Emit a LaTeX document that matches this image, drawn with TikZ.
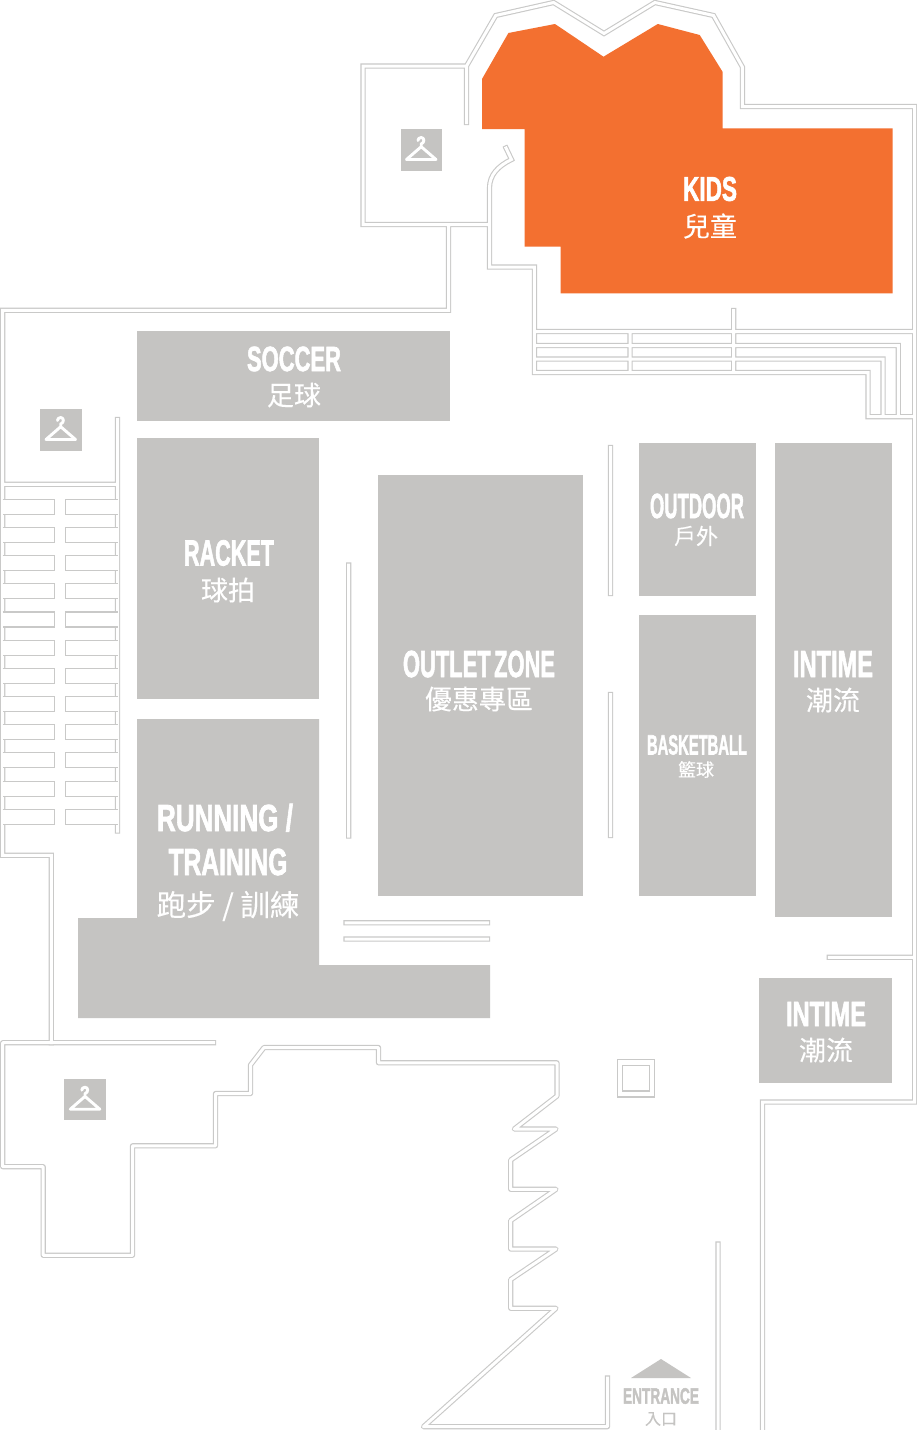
\documentclass[tikz,border=0pt]{standalone}
\usepackage{fontspec}
\usepackage{graphicx}
\setmainfont{Liberation Sans}
\newfontfamily\lblf[BoldFeatures={FakeBold=2.2}]{Liberation Sans}
\newfontfamily\cjkf[FakeBold=0.25]{Noto Sans CJK TC}
\definecolor{zonegray}{HTML}{C5C4C2}
\definecolor{wallgray}{HTML}{C9C9C8}
\definecolor{kidsorange}{HTML}{F37030}
\newcommand\lbl[3]{\resizebox{#1pt}{#2pt}{\raisebox{0pt}[.716em][0pt]{\lblf\bfseries #3}}}
\newcommand\cj[2]{{\cjkf\fontsize{#1pt}{#1pt}\selectfont #2}}
\newcommand\wallnet{
  (363,66) -- (466.5,66) -- (495.7,15.5) -- (553.6,2.5) -- (604,33.5) -- (654.9,2.5) -- (713.5,15.5) -- (742.4,67) -- (742.4,106.5) -- (914.7,106.5) -- (914.7,1102) -- (762.5,1102) -- (762.5,1440)
  (466.5,66) -- (466.5,122.5)
  (363,66) -- (363,224.5) -- (489.5,224.5)
  (448.5,224.5) -- (448.5,310.3) -- (2.7,310.3) -- (2.7,855.3) -- (51.3,855.3) -- (51.3,1042.7)
  (506,148) -- (511.5,159.5) .. controls (498,166) and (489.5,175) .. (489.5,188) -- (489.5,267) -- (534.4,267) -- (534.4,372.5) -- (868,372.5) -- (868,416.7) -- (914.7,416.7)
  (733.7,310.5) -- (733.7,372.5)
  (534.4,331.5) -- (914.7,331.5)
  (534.4,345.5) -- (898.3,345.5) -- (898.3,416.7)
  (534.4,359) -- (883,359) -- (883,416.7)
  (630,331.5) -- (630,372.5)
  (117.5,419.5) -- (117.5,831)
  (2.7,484.3) -- (117.5,484.3)
  (829.3,957.3) -- (914.7,957.3)
  (348.7,565) -- (348.7,836)
  (610.5,447.5) -- (610.5,593.5)
  (610.5,694.5) -- (610.5,835.5)
  (718,1244) -- (718,1440)
  (346,922.8) -- (487.5,922.8)
  (346,939) -- (487.5,939)
}
\newcommand\lowernet{
  (213.5,1042.7) -- (2.7,1042.7) -- (2.7,1166.7) -- (43.2,1166.7) -- (43.2,1255.3) -- (132.5,1255.3) -- (132.5,1145.8) -- (215.5,1145.8) -- (215.5,1093.5) -- (250.5,1093.5) -- (250.5,1065) -- (264,1047.5) -- (378.5,1047.5) -- (378.5,1062.8) -- (557,1062.8) -- (557,1096) -- (514.3,1129) -- (556,1129) -- (510.7,1160) -- (510.7,1189.3) -- (556,1189.3) -- (510.7,1220.5) -- (510.7,1249) -- (556,1249) -- (510.7,1279.5) -- (510.7,1308.3) -- (556,1308.3) -- (423.5,1426.7) -- (607.5,1426.7) -- (607.5,1378)
}
\tikzset{
  zone/.style={fill=zonegray},
  wallouter/.style={draw=wallgray,line width=5.2pt,line cap=rect},
  wallinner/.style={draw=white,line width=3pt,line cap=rect},
  thinline/.style={draw=wallgray,line width=1.1pt},
  zonetext/.style={text=white,inner sep=0pt},
  hanger/.pic={
    \fill[zone] (0,0) rectangle (41.7,41.7);
    \draw[white,line width=2.9pt,line join=round,line cap=round]
      (20.7,17.7) -- (35.5,30.5) -- (6,30.5) -- cycle
      (20.7,17.7) -- (20.7,15) .. controls (24.5,13.5) and (24,8.5) .. (20.7,8.5) .. controls (18.5,8.5) and (17.5,10) .. (17.5,11.5);
  }
}
\begin{document}
\begin{tikzpicture}[x=1pt,y=-1pt]
\useasboundingbox (0,0) rectangle (917,1430);
\fill[white] (0,0) rectangle (917,1430);
% walls
\draw[wallouter,miter limit=12] \wallnet;
\draw[wallouter,line join=round] \lowernet;
\draw[wallinner,miter limit=12] \wallnet;
\draw[wallinner,line join=round] \lowernet;
% stair treads on the left
\foreach \i in {0,...,11}{
  \pgfmathsetmacro\ya{499.3+28.18*\i}
  \pgfmathsetmacro\yb{\ya+15}
  \fill[white] (2.7,\ya) rectangle (54.5,\yb);
  \fill[white] (65.5,\ya) rectangle (117.5,\yb);
  \draw[thinline] (2.7,\ya) -- (54.5,\ya) -- (54.5,\yb) -- (2.7,\yb);
  \draw[thinline] (117.5,\ya) -- (65.5,\ya) -- (65.5,\yb) -- (117.5,\yb);
}
% pillar
\draw[thinline] (617.2,1059.8) rectangle (654.6,1097);
\draw[thinline] (622.6,1065.3) rectangle (649.4,1091);
% zones
\fill[kidsorange] (482,79) -- (508.4,33) -- (555,24) -- (603.5,56.7) -- (657.8,24) -- (699.7,35) -- (722.5,71.7) -- (722.5,128.3) -- (892.5,128.3) -- (892.5,293.3) -- (560.5,293.3) -- (560.5,246.7) -- (524.7,246.7) -- (524.7,129) -- (482,129) -- cycle;
\fill[zone] (137,331) rectangle (450,421);
\fill[zone] (137,438) rectangle (319,699);
\fill[zone] (137,719) -- (319,719) -- (319,965) -- (490,965) -- (490,1018) -- (78,1018) -- (78,918) -- (137,918) -- cycle;
\fill[zone] (378,475) rectangle (583,896);
\fill[zone] (639,443) rectangle (756,596);
\fill[zone] (639,615) rectangle (756,896);
\fill[zone] (775,443) rectangle (892,917);
\fill[zone] (759,978) rectangle (892,1083);
\fill[zone] (631,1378) -- (661,1359) -- (691,1378) -- cycle;
% hangers
\pic at (400.5,129) {hanger};
\pic at (40,409) {hanger};
\pic at (64.3,1078.7) {hanger};
% labels
\node[zonetext] (kidsen) at (710,188.5) {\lbl{54}{24.5}{KIDS}};
\node[zonetext] (kidszh) at (710,226) {\cj{27}{兒童}};
\node[zonetext] (socceren) at (294,358.5) {\lbl{94}{25}{SOCCER}};
\node[zonetext] (soccerzh) at (294,395) {\cj{27}{足球}};
\node[zonetext] (racketen) at (229,552.5) {\lbl{90}{26}{RACKET}};
\node[zonetext] (racketzh) at (228,590) {\cj{27}{球拍}};
\node[zonetext] (outleten) at (479,663.5) {\lbl{152}{27}{OUTLET\hspace{-.12em} ZONE}};
\node[zonetext] (outletzh) at (479,699) {\cj{27}{優惠專區}};
\node[zonetext] (outdooren) at (697,505.5) {\lbl{94}{25}{OUTDOOR}};
\node[zonetext] (outdoorzh) at (696,536) {\cj{22}{戶外}};
\node[zonetext] (basketen) at (697,744.5) {\lbl{100}{20}{BASKETBALL}};
\node[zonetext] (basketzh) at (696,769.5) {\cj{18}{籃球}};
\node[zonetext] (intimeen) at (833,663.5) {\lbl{80}{27}{INTIME}};
\node[zonetext] (intimezh) at (833,700) {\cj{27}{潮流}};
\node[zonetext] (intimeben) at (826,1013.5) {\lbl{80}{25}{INTIME}};
\node[zonetext] (intimebzh) at (826,1050) {\cj{27}{潮流}};
\node[zonetext] (runen) at (225,817.5) {\lbl{136}{27}{RUNNING /}};
\node[zonetext] (trainen) at (228,861.5) {\lbl{119}{27}{TRAINING}};
\node[zonetext] (runzh) at (228,906) {\cj{29.5}{跑步 / 訓練}};
\node[zonetext,text=zonegray] (entren) at (661,1395.7) {\lbl{76}{16}{ENTRANCE}};
\node[zonetext,text=zonegray] (entrzh) at (661,1419) {\cj{16}{入口}};
\end{tikzpicture}
\end{document}
